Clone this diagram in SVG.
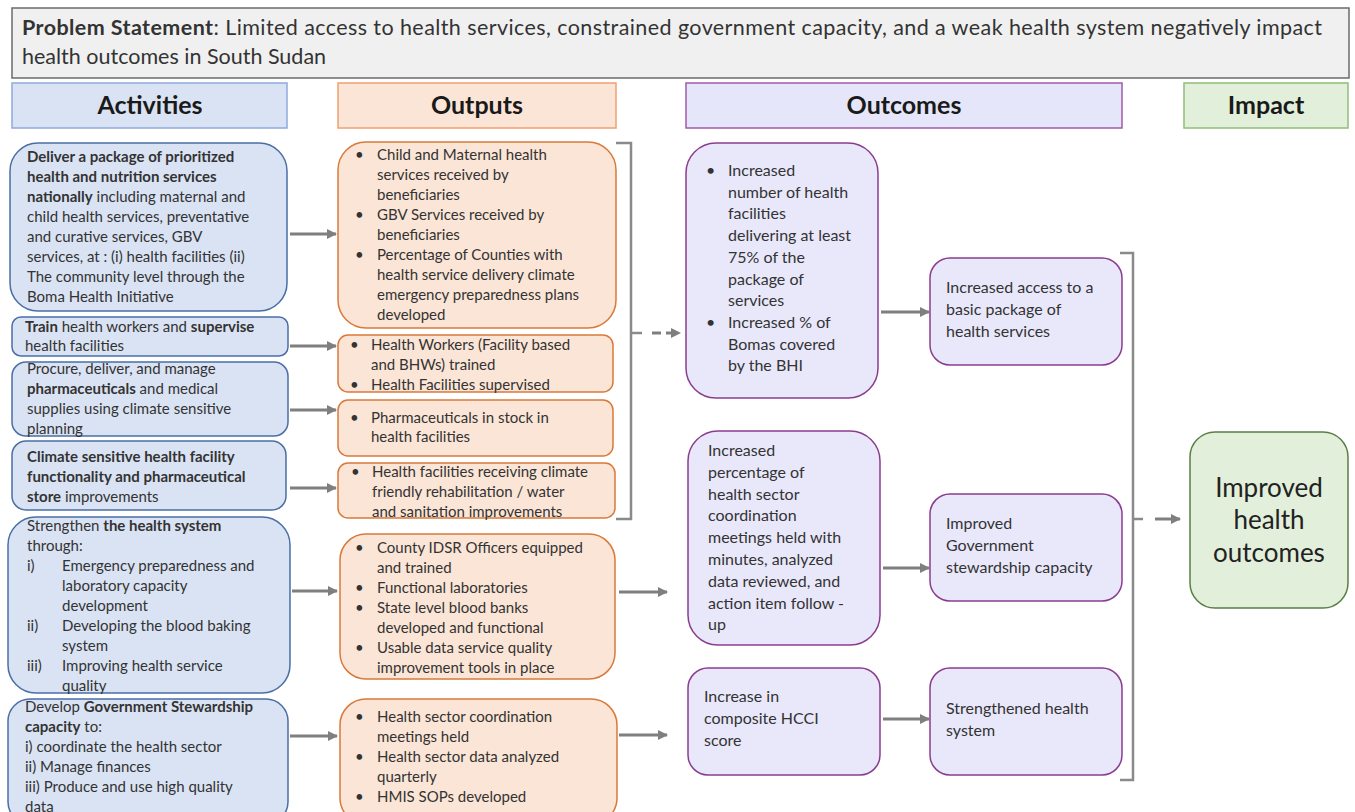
<svg xmlns="http://www.w3.org/2000/svg" width="1355" height="812" viewBox="0 0 1355 812">
<style>
text{font-family:Lato,"Open Sans","Liberation Sans",sans-serif;fill:#333;font-size:15px}
.b{font-weight:bold}
.hd{font-size:25px;font-weight:bold;fill:#1a1a1a;text-anchor:middle}
.act{fill:#dae3f3;stroke:#4a6fa5;stroke-width:1.5}
.out{fill:#fbe5d6;stroke:#d97a3a;stroke-width:1.5}
.oc{fill:#e9e8fb;stroke:#8b3c8f;stroke-width:1.5}
.imp{fill:#e2efda;stroke:#5a7f45;stroke-width:1.5}
.oct{font-size:16px}
.arr{stroke:#7f7f7f;stroke-width:3;fill:none;marker-end:url(#ah)}
.brk{stroke:#8a8a8a;stroke-width:2.5;fill:none}
</style>
<defs>
<marker id="ah" viewBox="0 0 10 10" refX="9" refY="5" markerWidth="3.4" markerHeight="3.4" orient="auto">
<path d="M0,0 L10,5 L0,10 z" fill="#7f7f7f"/>
</marker>
</defs>
<rect width="1355" height="812" fill="#ffffff"/>

<g id="problem">
<rect x="12" y="8" width="1337" height="70" fill="#f0f0f0" stroke="#6b6b6b" stroke-width="1.5"/>
<text x="22" y="35" style="font-size:21.5px" fill="#222" textLength="1300" lengthAdjust="spacing"><tspan class="b">Problem Statement</tspan>: Limited access to health services, constrained government capacity, and a weak health system negatively impact</text>
<text x="22" y="64" style="font-size:21.5px">health outcomes in South Sudan</text>
</g>

<g id="hdr-activities"><rect x="12" y="83" width="275" height="45" fill="#dae3f3" stroke="#8faadc" stroke-width="1.5"/><text x="150" y="114" class="hd">Activities</text></g>
<g id="hdr-outputs"><rect x="338" y="83" width="278" height="45" fill="#fbe5d6" stroke="#f0a070" stroke-width="1.5"/><text x="477" y="114" class="hd">Outputs</text></g>
<g id="hdr-outcomes"><rect x="686" y="83" width="436" height="45" fill="#e6e6fa" stroke="#a25aa8" stroke-width="1.5"/><text x="904" y="114" class="hd">Outcomes</text></g>
<g id="hdr-impact"><rect x="1184" y="83" width="164" height="45" fill="#e2efda" stroke="#8fbf78" stroke-width="1.5"/><text x="1266" y="114" class="hd">Impact</text></g>

<g id="act1"><rect x="10" y="143" width="277" height="168" rx="28" class="act"/>
<text x="27" y="162"><tspan class="b">Deliver a package of prioritized</tspan><tspan x="27" dy="20" class="b">health and nutrition  services</tspan><tspan x="27" dy="20" class="b">nationally</tspan><tspan> including maternal and</tspan><tspan x="27" dy="20">child health services, preventative</tspan><tspan x="27" dy="20">and curative services, GBV</tspan><tspan x="27" dy="20">services, at : (i) health facilities (ii)</tspan><tspan x="27" dy="20">The community level through the</tspan><tspan x="27" dy="20">Boma Health Initiative</tspan></text></g>

<g id="act2"><rect x="12" y="317" width="276" height="39" rx="9" class="act"/>
<text x="25" y="332"><tspan class="b">Train</tspan> health workers and <tspan class="b">supervise</tspan><tspan x="25" dy="19">health facilities</tspan></text></g>

<g id="act3"><rect x="12" y="362" width="276" height="74" rx="14" class="act"/>
<text x="27" y="374">Procure, deliver, and manage<tspan x="27" dy="20" class="b">pharmaceuticals</tspan> and medical<tspan x="27" dy="20">supplies using climate sensitive</tspan><tspan x="27" dy="20">planning</tspan></text></g>

<g id="act4"><rect x="12" y="441" width="274" height="69" rx="14" class="act"/>
<text x="27" y="462" class="b">Climate sensitive health facility<tspan x="27" dy="20">functionality and pharmaceutical</tspan><tspan x="27" dy="20">store</tspan><tspan style="font-weight:normal"> improvements</tspan></text></g>

<g id="act5"><rect x="8" y="517" width="282" height="176" rx="28" class="act"/>
<text x="27" y="531">Strengthen <tspan class="b">the health system</tspan><tspan x="27" dy="20">through:</tspan></text>
<text x="27" y="571">i)</text><text x="62" y="571">Emergency  preparedness and<tspan x="62" dy="20">laboratory capacity</tspan><tspan x="62" dy="20">development</tspan></text>
<text x="27" y="631">ii)</text><text x="62" y="631">Developing the blood baking<tspan x="62" dy="20">system</tspan></text>
<text x="27" y="671">iii)</text><text x="62" y="671">Improving health service<tspan x="62" dy="20">quality</tspan></text></g>

<g id="act6"><rect x="8" y="699" width="280" height="125" rx="22" class="act"/>
<text x="25" y="712">Develop <tspan class="b">Government Stewardship</tspan><tspan x="25" dy="20" class="b">capacity</tspan> to:<tspan x="25" dy="20">i) coordinate the health sector</tspan><tspan x="25" dy="20">ii) Manage finances</tspan><tspan x="25" dy="20">iii) Produce and use high quality</tspan><tspan x="25" dy="19.5">data</tspan></text></g>

<g id="out1"><rect x="338" y="142" width="278" height="186" rx="28" class="out"/>
<text x="355" y="160">•</text><text x="355" y="220">•</text><text x="355" y="260">•</text>
<text x="377" y="160">Child and Maternal health<tspan x="377" dy="20">services received by</tspan><tspan x="377" dy="20">beneficiaries</tspan><tspan x="377" dy="20">GBV Services received by</tspan><tspan x="377" dy="20">beneficiaries</tspan><tspan x="377" dy="20">Percentage of Counties with</tspan><tspan x="377" dy="20">health service delivery climate</tspan><tspan x="377" dy="20">emergency preparedness plans</tspan><tspan x="377" dy="20">developed</tspan></text></g>

<g id="out2"><rect x="338" y="335" width="275" height="57" rx="10" class="out"/>
<text x="350" y="350">•</text><text x="350" y="390">•</text>
<text x="371" y="350">Health Workers (Facility based<tspan x="371" dy="20">and BHWs) trained</tspan><tspan x="371" dy="20">Health Facilities supervised</tspan></text></g>

<g id="out3"><rect x="338" y="400" width="275" height="56" rx="10" class="out"/>
<text x="350" y="423">•</text>
<text x="371" y="423">Pharmaceuticals in stock in<tspan x="371" dy="19">health facilities</tspan></text></g>

<g id="out4"><rect x="338" y="463" width="277" height="55" rx="10" class="out"/>
<text x="351" y="477">•</text>
<text x="372" y="477">Health facilities receiving  climate<tspan x="372" dy="20">friendly rehabilitation / water</tspan><tspan x="372" dy="20">and sanitation improvements</tspan></text></g>

<g id="out5"><rect x="340" y="534" width="275" height="145" rx="26" class="out"/>
<text x="355" y="553">•</text><text x="355" y="593">•</text><text x="355" y="613">•</text><text x="355" y="653">•</text>
<text x="377" y="553">County IDSR Officers equipped<tspan x="377" dy="20">and trained</tspan><tspan x="377" dy="20">Functional laboratories</tspan><tspan x="377" dy="20">State level blood banks</tspan><tspan x="377" dy="20">developed and functional</tspan><tspan x="377" dy="20">Usable data service quality</tspan><tspan x="377" dy="20">improvement tools in place</tspan></text></g>

<g id="out6"><rect x="340" y="699" width="277" height="125" rx="26" class="out"/>
<text x="355" y="722">•</text><text x="355" y="762">•</text><text x="355" y="802">•</text>
<text x="377" y="722">Health sector coordination<tspan x="377" dy="20">meetings held</tspan><tspan x="377" dy="20">Health sector data analyzed</tspan><tspan x="377" dy="20">quarterly</tspan><tspan x="377" dy="20">HMIS SOPs developed</tspan></text></g>

<g id="oc1"><rect x="686" y="143" width="192" height="255" rx="30" class="oc"/>
<text x="706" y="176" class="oct">•</text><text x="706" y="328" class="oct">•</text>
<text x="728" y="176" class="oct">Increased<tspan x="728" dy="21.7">number of health</tspan><tspan x="728" dy="21.7">facilities</tspan><tspan x="728" dy="21.7">delivering at least</tspan><tspan x="728" dy="21.7">75% of the</tspan><tspan x="728" dy="21.7">package of</tspan><tspan x="728" dy="21.7">services</tspan><tspan x="728" dy="21.7">Increased % of</tspan><tspan x="728" dy="21.7">Bomas covered</tspan><tspan x="728" dy="21.7">by the BHI</tspan></text></g>

<g id="oc2"><rect x="688" y="431" width="192" height="214" rx="30" class="oc"/>
<text x="708" y="456" class="oct">Increased<tspan x="708" dy="21.8">percentage of</tspan><tspan x="708" dy="21.8">health sector</tspan><tspan x="708" dy="21.8">coordination</tspan><tspan x="708" dy="21.8">meetings held with</tspan><tspan x="708" dy="21.8">minutes, analyzed</tspan><tspan x="708" dy="21.8">data reviewed, and</tspan><tspan x="708" dy="21.8">action item follow -</tspan><tspan x="708" dy="21.8">up</tspan></text></g>

<g id="oc3"><rect x="688" y="668" width="192" height="107" rx="20" class="oc"/>
<text x="704" y="702" class="oct">Increase in<tspan x="704" dy="22">composite HCCI</tspan><tspan x="704" dy="22">score</tspan></text></g>

<g id="res1"><rect x="930" y="258" width="192" height="107" rx="20" class="oc"/>
<text x="946" y="293" class="oct">Increased access to a<tspan x="946" dy="22">basic package of</tspan><tspan x="946" dy="22">health services</tspan></text></g>

<g id="res2"><rect x="930" y="494" width="192" height="107" rx="20" class="oc"/>
<text x="946" y="529" class="oct">Improved<tspan x="946" dy="22">Government</tspan><tspan x="946" dy="22">stewardship capacity</tspan></text></g>

<g id="res3"><rect x="930" y="668" width="192" height="107" rx="20" class="oc"/>
<text x="946" y="714" class="oct">Strengthened health<tspan x="946" dy="22">system</tspan></text></g>

<g id="impact"><rect x="1190" y="432" width="158" height="176" rx="25" class="imp"/>
<text x="1269" y="497" style="font-size:26px;text-anchor:middle;fill:#222">Improved<tspan x="1269" dy="32">health</tspan><tspan x="1269" dy="33">outcomes</tspan></text></g>

<g id="connectors">
<line x1="290" y1="234" x2="336" y2="234" class="arr"/>
<line x1="290" y1="346" x2="336" y2="346" class="arr"/>
<line x1="290" y1="410" x2="336" y2="410" class="arr"/>
<line x1="290" y1="488" x2="336" y2="488" class="arr"/>
<line x1="292" y1="591" x2="337" y2="591" class="arr"/>
<line x1="290" y1="736" x2="337" y2="736" class="arr"/>
<path d="M616,143 H631 V519 H616 M631,333 H642" class="brk"/>
<line x1="652" y1="333" x2="680" y2="333" class="arr" stroke-dasharray="9,5"/>
<line x1="619" y1="592" x2="667" y2="592" class="arr"/>
<line x1="619" y1="735" x2="667" y2="735" class="arr"/>
<line x1="881" y1="312" x2="929" y2="312" class="arr"/>
<line x1="883" y1="568" x2="929" y2="568" class="arr"/>
<line x1="883" y1="719" x2="929" y2="719" class="arr"/>
<path d="M1120,253 H1133 V780 H1120 M1133,519 H1143" class="brk"/>
<line x1="1155" y1="519" x2="1180" y2="519" class="arr"/>
</g>
</svg>
